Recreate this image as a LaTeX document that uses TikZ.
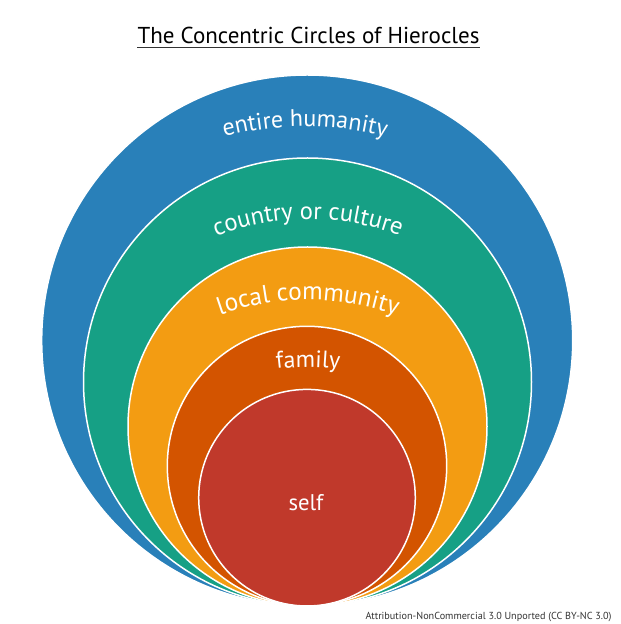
\documentclass[tikz,border=0pt]{standalone}
\usepackage{fontspec}
\setmainfont{PT Sans}
\usetikzlibrary{decorations.text}
\definecolor{cblue}{HTML}{2980B9}
\definecolor{cgreen}{HTML}{16A085}
\definecolor{corange}{HTML}{F39C12}
\definecolor{cdorange}{HTML}{D35400}
\definecolor{cred}{HTML}{C0392B}
\definecolor{attrgray}{HTML}{333333}
\tikzset{
  ring/.style={draw=white, line width=1.5pt},
  arclabel/.style={decorate, decoration={text along path, text align=center, text={#1}}}
}
\newcommand{\lblfont}[1]{\color{white}\fontsize{#1}{#1}\selectfont}
\begin{document}
\begin{tikzpicture}[x=1pt,y=1pt]
\useasboundingbox (0,0) rectangle (621,624);
\fill[white] (0,0) rectangle (621,624);
% circles
\path[ring, fill=cblue]   (307.2,283.5) circle[radius=265.5];
\path[ring, fill=cgreen]  (307.5,242)   circle[radius=224];
\path[ring, fill=corange] (307.5,197.5) circle[radius=179.5];
\path[ring, fill=cdorange](307,158)     circle[radius=139.7];
\path[ring, fill=cred]    (307,126.3)   circle[radius=108.3];
% curved labels
\path[arclabel={|\lblfont{24}|entire humanity}] ([shift={(125:320)}]305,177.5) arc[start angle=125, end angle=55, radius=320];
\path[arclabel={|\lblfont{24.6}|country or culture}] ([shift={(125:255)}]308,150) arc[start angle=125, end angle=55, radius=255];
\path[arclabel={|\lblfont{25.3}|local community}] ([shift={(125:265)}]308,59) arc[start angle=125, end angle=55, radius=265];
\path[arclabel={|\lblfont{23.8}|family}] ([shift={(120:260)}]308,-3) arc[start angle=120, end angle=60, radius=260];
\node[anchor=base, inner sep=0, text=white, font=\fontsize{22.7}{22.7}\selectfont] (self) at (306,113) {self};
% title
\node[anchor=base, inner sep=0, font=\fontsize{23}{23}\selectfont] (title) at (308.5,580.7) {The Concentric Circles of Hierocles};
\draw[line width=1.3pt, attrgray] ([yshift=-4pt]title.base west) -- ([yshift=-4pt]title.base east);
% attribution
\node[anchor=base east, inner sep=0, text=attrgray, font=\fontsize{10.2}{10.2}\selectfont] (attr) at (611.7,5) {Attribution-NonCommercial 3.0 Unported (CC BY-NC 3.0)};
\end{tikzpicture}
\end{document}
